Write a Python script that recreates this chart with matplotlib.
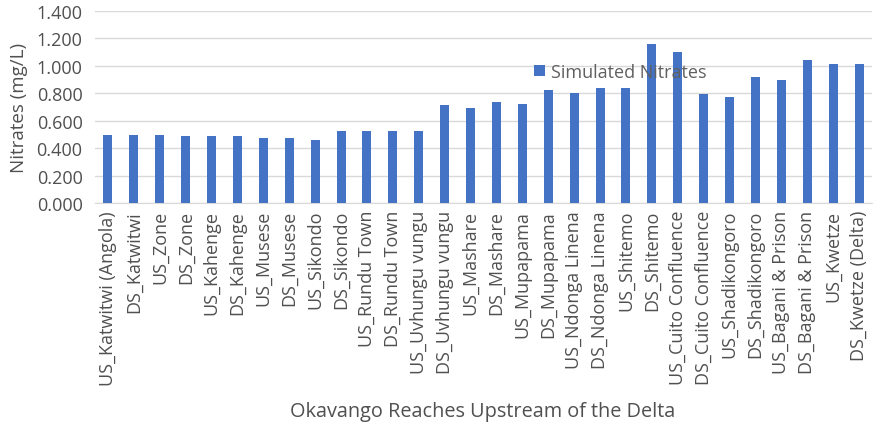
import matplotlib
matplotlib.use("Agg")
import matplotlib.pyplot as plt

reaches = [
    "US_Katwitwi (Angola)", "DS_Katwitwi", "US_Zone", "DS_Zone",
    "US_Kahenge", "DS_Kahenge", "US_Musese", "DS_Musese",
    "US_Sikondo", "DS_Sikondo", "US_Rundu Town", "DS_Rundu Town",
    "US_Uvhungu vungu", "DS_Uvhungu vungu", "US_Mashare", "DS_Mashare",
    "US_Mupapama", "DS_Mupapama", "US_Ndonga Linena", "DS_Ndonga Linena",
    "US_Shitemo", "DS_Shitemo", "US_Cuito Confluence", "DS_Cuito Confluence",
    "US_Shadikongoro", "DS_Shadikongoro", "US_Bagani & Prison",
    "DS_Bagani & Prison", "US_Kwetze", "DS_Kwetze (Delta)",
]
nitrates = [
    0.497, 0.497, 0.497, 0.488, 0.488, 0.488, 0.473, 0.473, 0.456, 0.527,
    0.522, 0.527, 0.527, 0.717, 0.693, 0.734, 0.724, 0.822, 0.805, 0.839,
    0.839, 1.158, 1.102, 0.797, 0.773, 0.917, 0.900, 1.046, 1.012, 1.012,
]
yticks = [0.0, 0.2, 0.4, 0.6, 0.8, 1.0, 1.2, 1.4]

TEXT = "#505050"
plt.rcParams["font.family"] = ["Open Sans", "DejaVu Sans"]

fig = plt.figure(figsize=(8.73, 4.31), dpi=100)
ax = fig.add_axes([95 / 873, (431 - 204) / 431, 777 / 873, 192 / 431])

x = range(len(reaches))
ax.bar(x, nitrates, width=0.35, color="#4472C4", label="Simulated Nitrates", zorder=3)

ax.set_xlim(-0.5, len(reaches) - 0.5)
ax.set_ylim(0, 1.4)
ax.set_yticks(yticks)
ax.set_yticklabels([f"{v:.3f}" for v in yticks])
ax.set_xticks(list(x))
ax.set_xticklabels(reaches, rotation=90)
ax.tick_params(axis="both", length=0, labelsize=13, colors=TEXT)
ax.tick_params(axis="x", pad=5)
ax.tick_params(axis="y", pad=9)
ax.grid(axis="y", color="#D9D9D9", linewidth=1, zorder=0)
for side in ["top", "right", "left"]:
    ax.spines[side].set_visible(False)
ax.spines["bottom"].set_color("#D9D9D9")

ax.set_ylabel("Nitrates (mg/L)", fontsize=13.5, color=TEXT, labelpad=6)
fig.text(483 / 873, 1 - 412 / 431, "Okavango Reaches Upstream of the Delta",
         ha="center", va="center", fontsize=14.3, color=TEXT)

leg = ax.legend(loc="center", bbox_to_anchor=(0.676, 0.682), frameon=False,
                fontsize=13, labelcolor="#606060", handlelength=0.6, handleheight=0.6,
                handletextpad=0.3)
leg.set_zorder(5)

fig.savefig("out.png", dpi=100)
